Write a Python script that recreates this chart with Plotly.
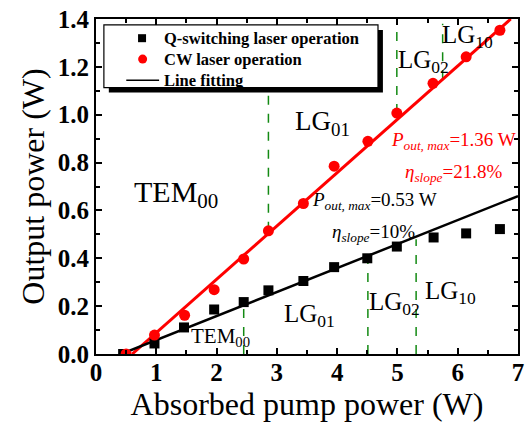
import plotly.graph_objects as go

# Q-switching laser operation (black squares)
q_x = [0.45, 0.97, 1.46, 1.96, 2.45, 2.86, 3.44, 3.95, 4.50, 4.99, 5.60, 6.14, 6.70]
q_y = [0.0, 0.044, 0.111, 0.186, 0.217, 0.266, 0.305, 0.363, 0.400, 0.449, 0.487, 0.504, 0.522]

# CW laser operation (red circles)
cw_x = [0.50, 0.97, 1.47, 1.96, 2.45, 2.86, 3.44, 3.95, 4.51, 4.99, 5.59, 6.14, 6.70]
cw_y = [0.0, 0.079, 0.162, 0.269, 0.397, 0.515, 0.629, 0.785, 0.889, 1.007, 1.131, 1.242, 1.353]

# Line fitting endpoints
red_fit_x = [0.60, 6.88]
red_fit_y = [0.0, 1.40]
black_fit_x = [0.42, 7.0]
black_fit_y = [0.0, 0.66]

# Mode-boundary dashed lines (x, y_from, y_to)
cw_bound_x = [2.86, 4.99, 5.75]
cw_bound_y0 = [0.515, 1.007, 1.148]
cw_bound_y1 = [1.11, 1.375, 1.38]
q_bound_x = [2.45, 4.51, 5.31]
q_bound_y0 = [0.0, 0.0, 0.0]
q_bound_y1 = [0.21, 0.39, 0.48]

x_ticks = [0, 1, 2, 3, 4, 5, 6, 7]
y_ticks = [0.0, 0.2, 0.4, 0.6, 0.8, 1.0, 1.2, 1.4]
y_tick_labels = ["0.0", "0.2", "0.4", "0.6", "0.8", "1.0", "1.2", "1.4"]

legend_names = ["Q-switching laser operation", "CW laser operation", "Line fitting"]

SERIF = "Liberation Serif"
GREEN = "#138a13"
RED = "#ff0000"

# plot-area pixel geometry (used for paper-coordinate placement)
L, R, T, B = 96, 524, 17, 354
def px_x(p):
    return (p - L) / (R - L)
def px_y(p):
    return (B - p) / (B - T)

fig = go.Figure()

# dashed boundaries
bx, by = [], []
for x, a, b in zip(cw_bound_x + q_bound_x, cw_bound_y0 + q_bound_y0, cw_bound_y1 + q_bound_y1):
    bx += [x, x, None]
    by += [a, b, None]
fig.add_trace(go.Scatter(x=bx, y=by, mode="lines", showlegend=False,
                         line=dict(color=GREEN, width=1.5, dash="dash"), hoverinfo="skip"))

fig.add_trace(go.Scatter(x=red_fit_x, y=red_fit_y, mode="lines", showlegend=False,
                         line=dict(color=RED, width=3)))
fig.add_trace(go.Scatter(x=black_fit_x, y=black_fit_y, mode="lines", showlegend=False,
                         name=legend_names[2], line=dict(color="black", width=2.5)))
fig.add_trace(go.Scatter(x=q_x, y=q_y, mode="markers", showlegend=False, name=legend_names[0],
                         marker=dict(symbol="square", size=10, color="black")))
fig.add_trace(go.Scatter(x=cw_x, y=cw_y, mode="markers", showlegend=False, name=legend_names[1],
                         marker=dict(symbol="circle", size=11, color=RED)))

# ---- custom legend (box with shadow) ----
row_y = [px_y(36.3), px_y(57.3), px_y(78.7)]
fig.add_shape(type="rect", xref="paper", yref="paper",
              x0=px_x(109), x1=px_x(387), y0=px_y(91), y1=px_y(28),
              fillcolor="black", line=dict(width=0), layer="below")
fig.add_shape(type="rect", xref="paper", yref="paper",
              x0=px_x(104), x1=px_x(382), y0=px_y(86), y1=px_y(23),
              fillcolor="white", line=dict(width=1.2, color="black"), layer="below")
# legend samples on an overlay axis spanning the plot area in [0,1]
fig.add_trace(go.Scatter(x=[px_x(142.7)], y=[row_y[0]], xaxis="x2", yaxis="y2", mode="markers",
                         showlegend=False, hoverinfo="skip",
                         marker=dict(symbol="square", size=8, color="black")))
fig.add_trace(go.Scatter(x=[px_x(143.3)], y=[row_y[1]], xaxis="x2", yaxis="y2", mode="markers",
                         showlegend=False, hoverinfo="skip",
                         marker=dict(symbol="circle", size=9, color=RED)))
fig.add_trace(go.Scatter(x=[px_x(126.7), px_x(160)], y=[row_y[2], row_y[2]], xaxis="x2", yaxis="y2",
                         mode="lines", showlegend=False, hoverinfo="skip",
                         line=dict(color="black", width=1.5)))
for name, yy in zip(legend_names, row_y):
    fig.add_annotation(x=px_x(163), y=yy, xref="paper", yref="paper", text="<b>" + name + "</b>",
                       showarrow=False, xanchor="left", yanchor="middle",
                       font=dict(family=SERIF, size=16.5, color="black"))

def ann(x, y, text, size, color="black"):
    fig.add_annotation(x=x, y=y, text=text, showarrow=False, xanchor="left", yanchor="middle",
                       font=dict(family=SERIF, size=size, color=color))

ann(0.60, 0.669, "TEM<sub>00</sub>", 30)
ann(3.27, 0.964, "LG<sub>01</sub>", 27)
ann(4.97, 1.221, "LG<sub>02</sub>", 25)
ann(5.71, 1.325, "LG<sub>10</sub>", 25)
ann(4.86, 0.889, "<i>P</i><sub><i>out, max</i></sub>=1.36 W", 19, RED)
ann(5.09, 0.756, "<i>η</i><sub><i>slope</i></sub>=21.8%", 19, RED)
ann(3.55, 0.64, "<i>P</i><sub><i>out, max</i></sub>=0.53 W", 19)
ann(3.88, 0.507, "<i>η</i><sub><i>slope</i></sub>=10%", 19)
ann(1.54, 0.07, "TEM<sub>00</sub>", 21)
ann(3.09, 0.162, "LG<sub>01</sub>", 25)
ann(4.50, 0.21, "LG<sub>02</sub>", 25)
ann(5.43, 0.258, "LG<sub>10</sub>", 25)

axis_common = dict(showline=True, linecolor="black", linewidth=2, mirror="ticks",
                   ticks="inside", ticklen=6, tickwidth=1.5, tickcolor="black",
                   showgrid=False, zeroline=False,
                   tickfont=dict(family=SERIF, size=25, color="black"))

fig.update_layout(
    width=530, height=423,
    margin=dict(l=L, r=530 - R, t=T, b=423 - B),
    paper_bgcolor="white", plot_bgcolor="white",
    showlegend=False,
    xaxis=dict(range=[0, 7], tickvals=x_ticks, ticktext=["<b>%d</b>" % v for v in x_ticks],
               minor=dict(dtick=0.5, ticks="inside", ticklen=4, tickcolor="black"),
               ticklabelstandoff=-5,
               title=dict(text="Absorbed pump power (W)", standoff=0,
                          font=dict(family=SERIF, size=32, color="black")),
               **axis_common),
    yaxis=dict(range=[0, 1.4], tickvals=y_ticks, ticktext=["<b>%s</b>" % s for s in y_tick_labels],
               minor=dict(dtick=0.1, ticks="inside", ticklen=4, tickcolor="black"),
               title=dict(text="Output power (W)", standoff=4,
                          font=dict(family=SERIF, size=32, color="black")),
               **axis_common),
    xaxis2=dict(overlaying="x", range=[0, 1], visible=False, fixedrange=True),
    yaxis2=dict(overlaying="y", range=[0, 1], visible=False, fixedrange=True),
)

fig.write_html("out.html")
